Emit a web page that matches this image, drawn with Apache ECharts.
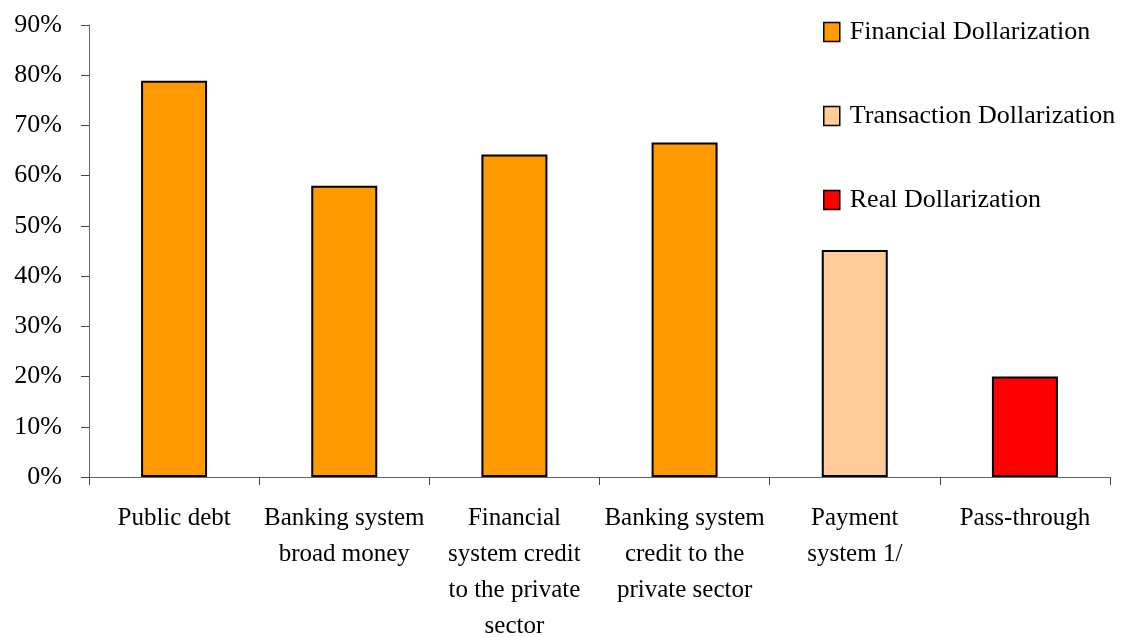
<!DOCTYPE html>
<html lang="en">
<head>
    <meta charset="UTF-8">
    <title>Dollarization</title>
    <script src="https://cdn.jsdelivr.net/npm/echarts@6/dist/echarts.min.js"></script>
    <style>
        html, body { margin: 0; padding: 0; background: #fff; }
        #charts { width: 1128px; height: 637px; }
    </style>
</head>
<body>
<div id="charts"></div>
<script>
    var categories = [
        'Public debt',
        'Banking system\nbroad money',
        'Financial\nsystem credit\nto the private\nsector',
        'Banking system\ncredit to the\nprivate sector',
        'Payment\nsystem 1/',
        'Pass-through'
    ];
    var financial   = [78.9, 58.0, 64.2, 66.6, '-', '-'];
    var transaction = ['-', '-', '-', '-', 45.2, '-'];
    var real        = ['-', '-', '-', '-', '-', 20.0];
    var seriesNames = ['Financial Dollarization', 'Transaction Dollarization', 'Real Dollarization'];
    var colors = ['#FF9900', '#FFCC99', '#FF0000'];

    var font = 'Liberation Serif';
    var myChart = echarts.init(document.getElementById('charts'));

    function barSeries(name, data, color) {
        return {
            name: name,
            type: 'bar',
            stack: 'all',
            barWidth: 66,
            data: data,
            itemStyle: { color: color, borderColor: '#000', borderWidth: 2 },
            animation: false
        };
    }

    var option = {
        backgroundColor: '#fff',
        textStyle: { fontFamily: font },
        grid: { left: 89, right: 18, top: 25, bottom: 160, containLabel: false, outerBoundsMode: 'none' },
        legend: {
            orient: 'vertical',
            left: 818,
            top: 14,
            itemGap: 58,
            itemWidth: 16,
            itemHeight: 19,
            icon: 'rect',
            data: seriesNames,
            itemStyle: { borderWidth: 1.5, borderColor: '#000' },
            textStyle: { fontFamily: font, fontSize: 26, color: '#000', padding: [0, 0, 0, 5] }
        },
        xAxis: {
            type: 'category',
            data: categories,
            axisLine: { lineStyle: { color: '#666', width: 1 } },
            axisTick: { show: true, alignWithLabel: false, length: 8, lineStyle: { color: '#444' } },
            axisLabel: {
                interval: 0,
                margin: 23,
                color: '#000',
                fontFamily: font,
                fontSize: 25,
                lineHeight: 36
            }
        },
        yAxis: {
            type: 'value',
            min: 0,
            max: 90,
            interval: 10,
            splitLine: { show: false },
            axisLine: { show: true, lineStyle: { color: '#666', width: 1 } },
            axisTick: { show: true, length: 8, lineStyle: { color: '#444' } },
            axisLabel: {
                margin: 27,
                color: '#000',
                fontFamily: font,
                fontSize: 26,
                formatter: '{value}%'
            }
        },
        series: [
            barSeries(seriesNames[0], financial, colors[0]),
            barSeries(seriesNames[1], transaction, colors[1]),
            barSeries(seriesNames[2], real, colors[2])
        ]
    };

    myChart.setOption(option);
</script>
</body>
</html>
